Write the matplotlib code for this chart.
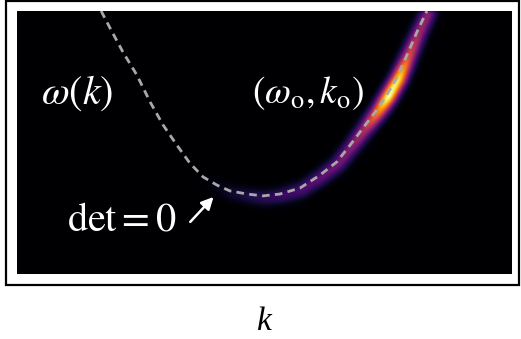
import numpy as np
import matplotlib
matplotlib.use('Agg')
import matplotlib.pyplot as plt
from matplotlib.patches import Rectangle

plt.rcParams['mathtext.fontset'] = 'stix'
plt.rcParams['font.family'] = ['Liberation Serif', 'DejaVu Serif']
plt.rcParams['lines.scale_dashes'] = False

# dispersion curve det = 0, normalised k (x) and omega (y) over the panel
k_curve = [0.170, 0.188, 0.214, 0.242, 0.269, 0.295, 0.323, 0.349, 0.376, 0.404,
           0.430, 0.465, 0.497, 0.531, 0.572, 0.612, 0.646, 0.673, 0.699, 0.727,
           0.747, 0.768, 0.788, 0.808, 0.828]
w_curve = [1.000, 0.935, 0.844, 0.757, 0.654, 0.567, 0.490, 0.422, 0.369, 0.338,
           0.316, 0.304, 0.297, 0.304, 0.327, 0.376, 0.426, 0.490, 0.555, 0.624,
           0.681, 0.749, 0.833, 0.920, 1.000]
# response strength along the curve, peaking at (omega_o, k_o)
amp_curve = [0.00, 0.00, 0.00, 0.00, 0.00, 0.00, 0.00, 0.00, 0.01, 0.04,
             0.08, 0.12, 0.15, 0.18, 0.22, 0.26, 0.30, 0.35, 0.45, 0.72,
             1.00, 0.92, 0.58, 0.42, 0.36]

label_curve = r'$\omega(k)$'
label_peak = r'$(\omega_\mathrm{o},k_\mathrm{o})$'
label_det = r'$\mathrm{det} = 0$'
label_x = 'k'

W, H = 521, 339
fig = plt.figure(figsize=(W / 100, H / 100), dpi=100)
fig.patch.set_facecolor('white')

# outer frame
fig.patches.append(Rectangle((6 / W, 1 - 285 / H), 513 / W, 284 / H,
                             transform=fig.transFigure, fill=False,
                             edgecolor='black', linewidth=1.6))

ax_w, ax_h = 495, 263
ax = fig.add_axes([17 / W, 1 - 274 / H, ax_w / W, ax_h / H])
ax.set_xlim(0, 1)
ax.set_ylim(0, 1)
ax.set_axis_off()

# intensity map: gaussian ridge along the curve, scaled by amp_curve
# (worked out in pixel units so the ridge is round, ridge sits a touch outside the curve)
kc = np.array(k_curve) * ax_w + 1.5
wc = np.array(w_curve) * ax_h - 2.0
ac = np.array(amp_curve)
ss = 2  # samples per pixel
xs = (np.arange(ax_w * ss) + 0.5) / ss
ys = (np.arange(ax_h * ss) + 0.5) / ss
X, Y = np.meshgrid(xs, ys)
best_d2 = np.full(X.shape, np.inf)
best_a = np.zeros(X.shape)
for i in range(len(kc) - 1):
    dx, dy = kc[i + 1] - kc[i], wc[i + 1] - wc[i]
    t = ((X - kc[i]) * dx + (Y - wc[i]) * dy) / (dx * dx + dy * dy)
    t = np.clip(t, 0, 1)
    d2 = (X - kc[i] - t * dx) ** 2 + (Y - wc[i] - t * dy) ** 2
    a = ac[i] + t * (ac[i + 1] - ac[i])
    m = d2 < best_d2
    best_d2[m] = d2[m]
    best_a[m] = a[m]
sigma = 5.4
Z = best_a * np.exp(-best_d2 / (2 * sigma ** 2))

# soften the kinks between segments
g = np.arange(-8, 9)
kern = np.exp(-g ** 2 / (2 * 3.0 ** 2))
kern /= kern.sum()
Z = np.apply_along_axis(lambda r: np.convolve(r, kern, mode='same'), 1, Z)
Z = np.apply_along_axis(lambda c: np.convolve(c, kern, mode='same'), 0, Z)
Z = Z / Z.max() * ac.max()

ax.imshow(Z, cmap='inferno', vmin=0, vmax=1, origin='lower',
          extent=[0, 1, 0, 1], aspect='auto', interpolation='bilinear')

ax.plot(k_curve, w_curve, color='#a8a8a8', lw=2.0, dashes=(5.5, 3.8),
        solid_capstyle='butt')

ax.text(0.121, 0.688, label_curve, color='white', fontsize=29,
        ha='center', va='center')
ax.text(0.587, 0.688, label_peak, color='white', fontsize=27,
        ha='center', va='center')
ax.text(0.211, 0.20, label_det, color='white', fontsize=29,
        ha='center', va='center')
ax.annotate('', xy=(0.397, 0.293), xytext=(0.350, 0.198),
            arrowprops=dict(arrowstyle='-|>', color='white', lw=1.8,
                            mutation_scale=18, shrinkA=0, shrinkB=0))

fig.text(263 / W, 1.5 / H, label_x, fontsize=24, style='italic',
         family='Liberation Serif', ha='center', va='bottom')

fig.savefig('out.png', dpi=100, facecolor='white')
